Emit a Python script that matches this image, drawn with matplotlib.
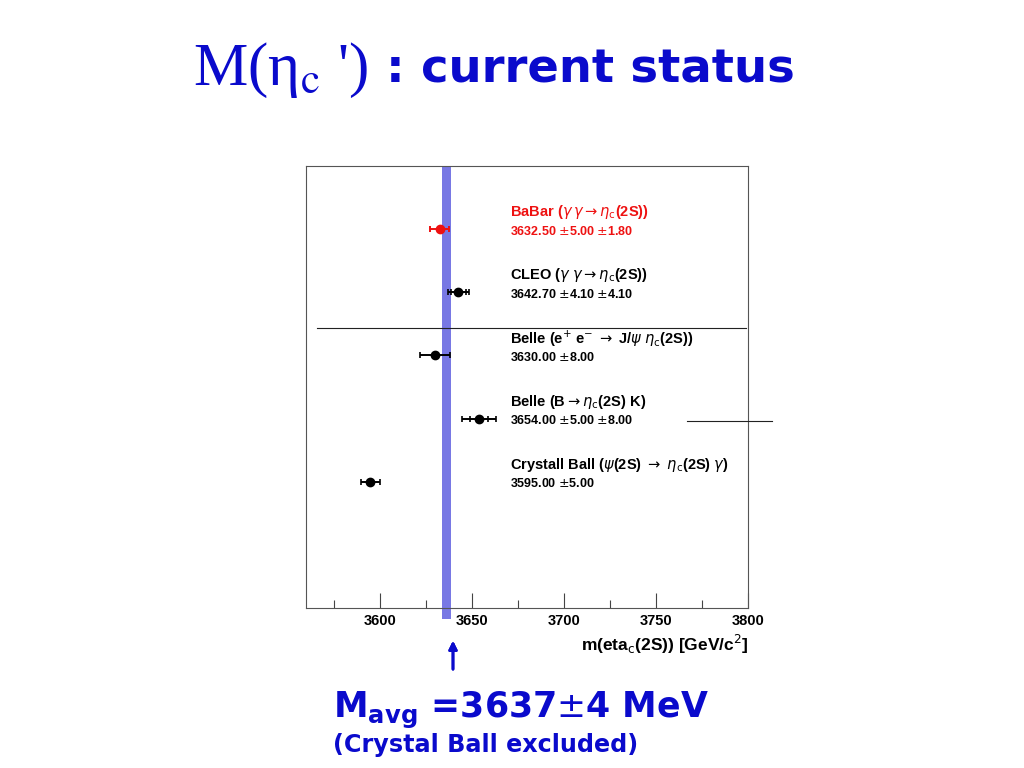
import matplotlib
matplotlib.use("Agg")
import matplotlib.pyplot as plt
from matplotlib.lines import Line2D
import numpy as np

# ==== measurements (MeV) ====
experiments = [
    r"BaBar ($\gamma\,\gamma \rightarrow \eta_{\rm c}$(2S))",
    r"CLEO ($\gamma\;\gamma \rightarrow \eta_{\rm c}$(2S))",
    r"Belle (e$^{+}$ e$^{-}$ $\rightarrow$ J/$\psi\;\eta_{\rm c}$(2S))",
    r"Belle (B$\rightarrow\eta_{\rm c}$(2S) K)",
    r"Crystall Ball ($\psi$(2S) $\rightarrow$ $\eta_{\rm c}$(2S) $\gamma$)",
]
mass = [3632.50, 3642.70, 3630.00, 3654.00, 3595.00]
stat = [5.00, 4.10, 8.00, 5.00, 5.00]
syst = [1.80, 4.10, None, 8.00, None]
row = [6, 5, 4, 3, 2]
colors = ["#ee1111", "black", "black", "black", "black"]

avg_center = 3636.3
avg_halfwidth = 2.4

BLUE = "#0a0acc"

fig = plt.figure(figsize=(10.24, 7.68), dpi=100)
ax = fig.add_axes([306 / 1024, 1 - 608 / 768, 442 / 1024, 442 / 768])
ax.set_xlim(3560, 3800)
ax.set_ylim(0, 7)

# average band
ax.axvspan(avg_center - avg_halfwidth, avg_center + avg_halfwidth,
           ymin=-0.025, ymax=1.0, color="#7878e4", lw=0, clip_on=False, zorder=1)

for i in range(len(mass)):
    m, s, y, c = mass[i], stat[i], row[i], colors[i]
    tot = s if syst[i] is None else np.hypot(s, syst[i])
    ax.errorbar(m, y, xerr=tot, fmt="o", color=c, ms=6, elinewidth=1.4,
                capsize=2, capthick=1.2, zorder=3)
    if syst[i] is not None:
        ax.plot([m - s, m + s], [y, y], ls="none", marker="|", ms=4,
                mew=1.2, color=c, zorder=3)
    ax.text(3670.5, y + 0.27, experiments[i], color=c, fontsize=10.5,
            fontweight="bold", family="Liberation Sans", va="center")
    if syst[i] is None:
        val = "%.2f $\\pm$%.2f" % (m, s)
    else:
        val = "%.2f $\\pm$%.2f $\\pm$%.2f" % (m, s, syst[i])
    ax.text(3670.5, y - 0.03, val, color=c, fontsize=9,
            fontweight="bold", family="Liberation Sans", va="center")

ax.set_xticks([3600, 3650, 3700, 3750, 3800])
ax.set_xticks([3575, 3625, 3675, 3725, 3775], minor=True)
ax.tick_params(axis="x", which="major", direction="in", length=11, width=0.8,
               color="#444444", pad=4, labelsize=10.5)
ax.tick_params(axis="x", which="minor", direction="in", length=6, width=0.8,
               color="#444444")
for lab in ax.get_xticklabels():
    lab.set_fontweight("bold")
    lab.set_family("Liberation Sans")
ax.set_yticks([])
for sp in ax.spines.values():
    sp.set_color("#555555")
    sp.set_linewidth(0.8)
ax.set_xlabel(r"m(eta$_{\rm c}$(2S)) [GeV/c$^{2}$]", loc="right",
              fontsize=12.5, fontweight="bold", family="Liberation Sans",
              labelpad=4)

# stray slide lines
fig.add_artist(Line2D([317 / 1024, 746 / 1024], [1 - 328 / 768, 1 - 328 / 768],
                      color="#222222", lw=0.8))
fig.add_artist(Line2D([687 / 1024, 772 / 1024], [1 - 421 / 768, 1 - 421 / 768],
                      color="#222222", lw=0.8))

# arrow to the average
fig.add_artist(plt.annotate("", xy=(453 / 1024, 1 - 638 / 768), xycoords="figure fraction",
                            xytext=(453 / 1024, 1 - 672 / 768), textcoords="figure fraction",
                            arrowprops=dict(arrowstyle="-|>", color=BLUE, lw=2,
                                            mutation_scale=12)))

# title
fig.text(193 / 1024, 1 - 70 / 768, "M(η$_{\\rm c}$ ')", color=BLUE,
         fontsize=44, family="Liberation Serif", math_fontfamily="stix",
         va="center", ha="left")
fig.text(386 / 1024, 1 - 70 / 768, ": current status", color=BLUE,
         fontsize=33.5, fontweight="bold", family="DejaVu Sans", va="center", ha="left")

fig.text(333 / 1024, 1 - 710 / 768, r"M$_{\bf avg}$ =3637$\pm$4 MeV", color=BLUE,
         fontsize=25, fontweight="bold", family="DejaVu Sans", va="center", ha="left")
fig.text(333 / 1024, 1 - 745 / 768, "(Crystal Ball excluded)", color=BLUE,
         fontsize=17.2, fontweight="bold", family="DejaVu Sans", va="center", ha="left")

fig.savefig("out.png", dpi=100)
